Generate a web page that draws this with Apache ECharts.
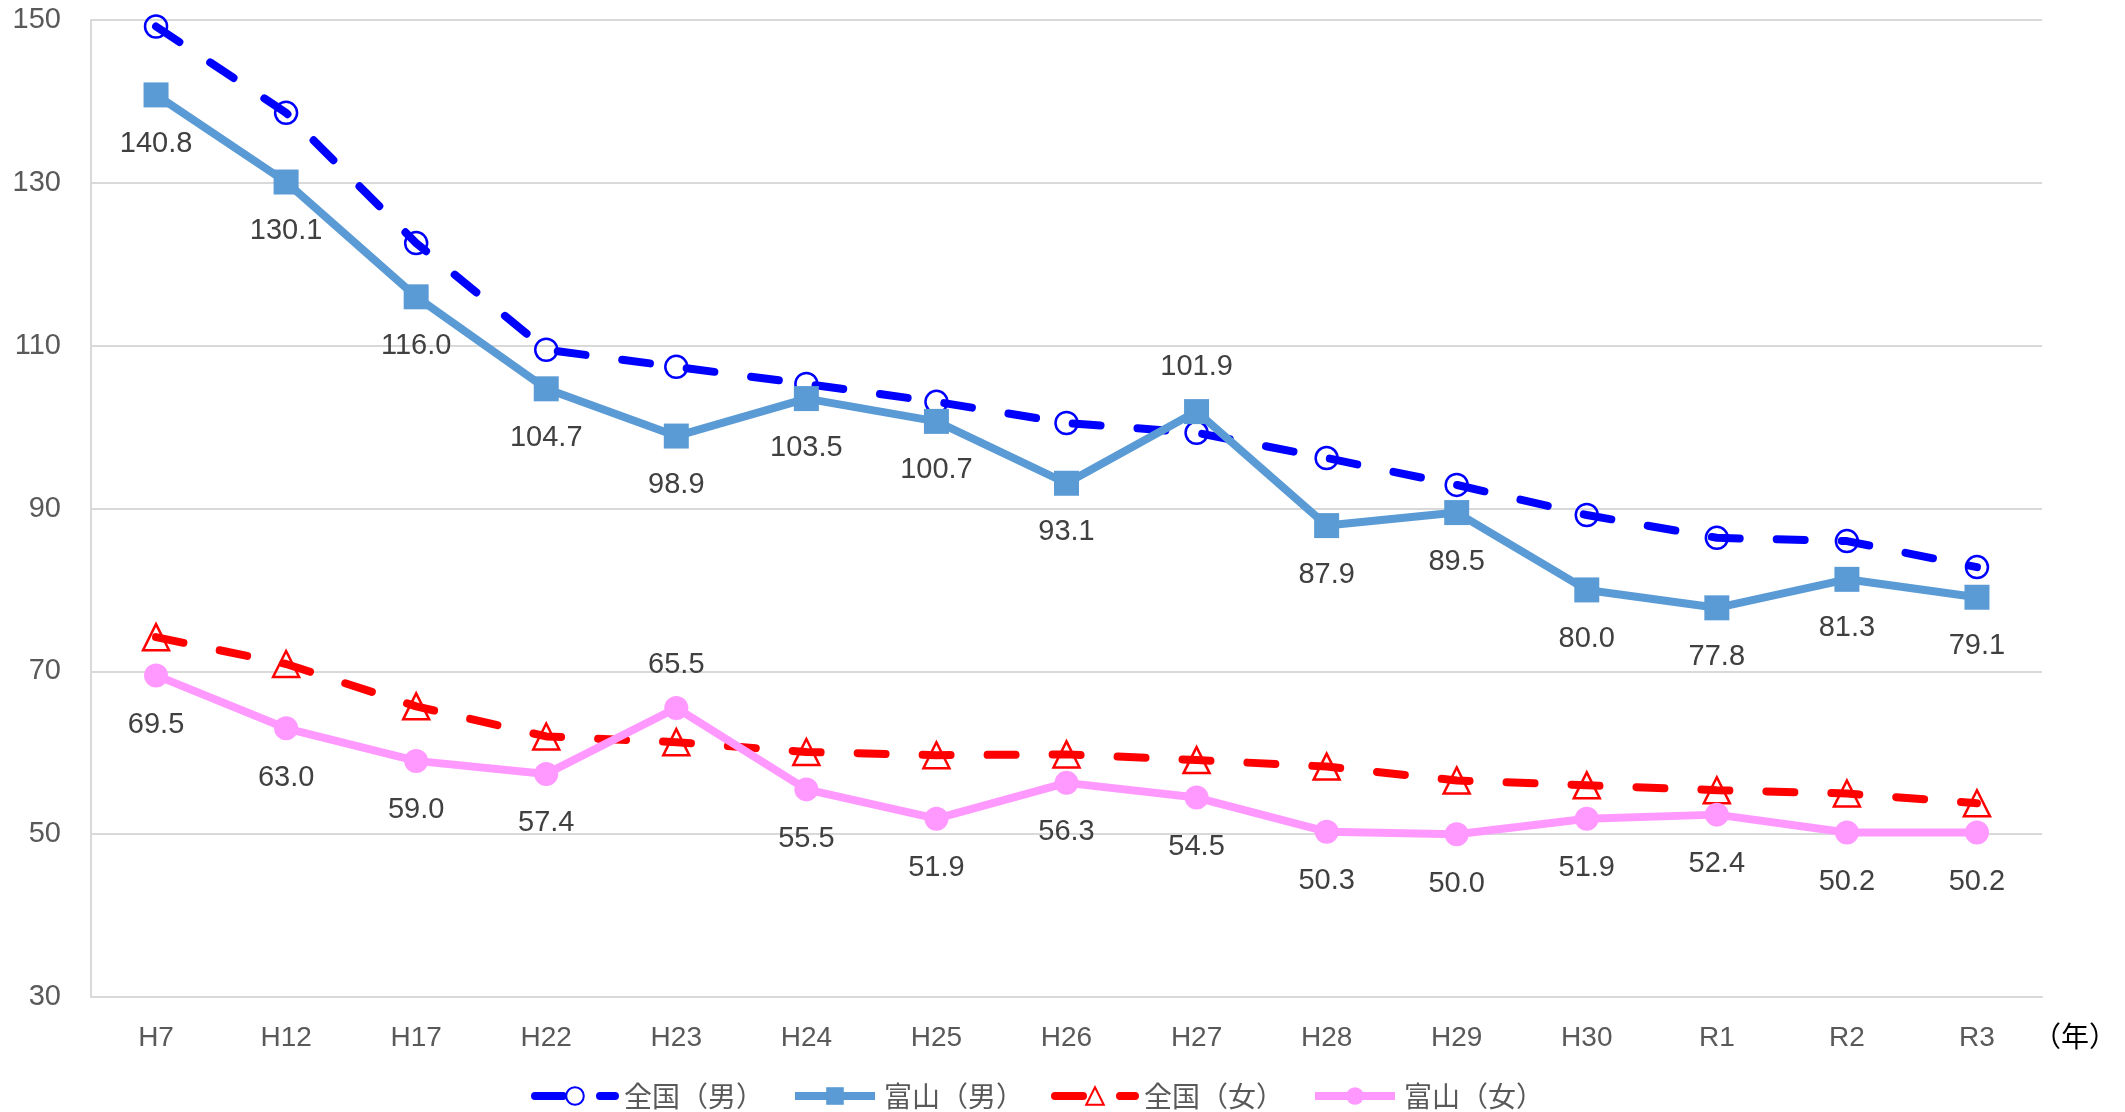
<!DOCTYPE html>
<html>
<head>
<meta charset="utf-8">
<script src="https://cdn.jsdelivr.net/npm/echarts@6/dist/echarts.min.js"></script>
<style>
  html, body { margin: 0; padding: 0; background: #fff; }
  #chart { width: 2125px; height: 1112px; }
</style>
</head>
<body>
<div id="chart"></div>
<script>
// 年
var years = ['H7', 'H12', 'H17', 'H22', 'H23', 'H24', 'H25', 'H26', 'H27', 'H28', 'H29', 'H30', 'R1', 'R2', 'R3']
// 全国（男）は図から読み取った値
var zenkokuMale = [149.2, 138.6, 122.6, 109.5, 107.4, 105.3, 103.1, 100.5, 99.3, 96.2, 92.9, 89.2, 86.4, 86.0, 82.8]
var toyamaMale = [140.8, 130.1, 116.0, 104.7, 98.9, 103.5, 100.7, 93.1, 101.9, 87.9, 89.5, 80.0, 77.8, 81.3, 79.1]
// 全国（女）も読み取り値
var zenkokuFemale = [74.2, 70.9, 65.7, 62.0, 61.3, 60.1, 59.7, 59.8, 59.1, 58.3, 56.6, 56.0, 55.4, 55.0, 53.8]
var toyamaFemale = [69.5, 63.0, 59.0, 57.4, 65.5, 55.5, 51.9, 56.3, 54.5, 50.3, 50.0, 51.9, 52.4, 50.2, 50.2]
var yTicks = { min: 30, max: 150, interval: 20 }

var numFont = 'Liberation Sans'
var dash = [28, 37]

// ラベルを上に出す点だけ個別指定
function withLabels (values, upIndex, downDist, upDist) {
  return values.map(function (v, i) {
    if (i === upIndex) {
      return { value: v, label: { position: 'top', distance: upDist } }
    }
    return { value: v, label: { position: 'bottom', distance: downDist } }
  })
}

var myChart = echarts.init(document.getElementById('chart'))
var option = {
  animation: false,
  grid: { left: 91, right: 83, top: 20, bottom: 115 },
  legend: {
    left: 526,
    top: 1077,
    itemWidth: 80,
    itemHeight: 22,
    itemGap: 27,
    lineStyle: { width: 8 },
    textStyle: { fontFamily: 'Noto Sans CJK JP', fontSize: 28, color: '#595959', padding: [0, 0, 0, 4] },
    data: ['全国（男）', '富山（男）', '全国（女）', '富山（女）']
  },
  xAxis: {
    type: 'category',
    data: years,
    boundaryGap: true,
    axisLine: { lineStyle: { color: '#d9d9d9', width: 2 } },
    axisTick: { show: false },
    axisLabel: { margin: 27, fontFamily: numFont, fontSize: 28, color: '#595959' }
  },
  yAxis: {
    type: 'value',
    min: yTicks.min,
    max: yTicks.max,
    interval: yTicks.interval,
    axisLine: { show: true, lineStyle: { color: '#d9d9d9', width: 2 } },
    axisTick: { show: false },
    splitLine: { lineStyle: { color: '#d9d9d9', width: 2 } },
    axisLabel: { margin: 30, fontFamily: numFont, fontSize: 29, color: '#595959' }
  },
  graphic: [
    {
      type: 'text',
      left: 2033,
      top: 1022,
      style: { text: '（年）', fontFamily: 'Noto Sans CJK JP', fontSize: 28, fill: '#000' }
    }
  ],
  series: [
    {
      name: '全国（男）',
      type: 'line',
      data: zenkokuMale,
      symbol: 'circle',
      symbolSize: 22,
      lineStyle: { color: '#0000FF', width: 8, type: dash, cap: 'round' },
      itemStyle: { color: 'rgba(255,255,255,0)', borderColor: '#0000FF', borderWidth: 2.5 }
    },
    {
      name: '富山（男）',
      type: 'line',
      data: withLabels(toyamaMale, 8, 22, 18),
      symbol: 'rect',
      symbolSize: 25,
      lineStyle: { color: '#5B9BD5', width: 8 },
      itemStyle: { color: '#5B9BD5' },
      label: { show: true, formatter: function (p) { return p.value.toFixed(1) }, fontFamily: numFont, fontSize: 29, color: '#404040' }
    },
    {
      name: '全国（女）',
      type: 'line',
      data: zenkokuFemale,
      symbol: 'triangle',
      symbolSize: 26,
      lineStyle: { color: '#FF0000', width: 8, type: dash, cap: 'round' },
      itemStyle: { color: 'rgba(255,255,255,0)', borderColor: '#FF0000', borderWidth: 2.5 }
    },
    {
      name: '富山（女）',
      type: 'line',
      data: withLabels(toyamaFemale, 4, 23, 16),
      symbol: 'circle',
      symbolSize: 24,
      lineStyle: { color: '#FF99FF', width: 8 },
      itemStyle: { color: '#FF99FF' },
      label: { show: true, formatter: function (p) { return p.value.toFixed(1) }, fontFamily: numFont, fontSize: 29, color: '#404040' }
    }
  ]
}
myChart.setOption(option)
</script>
</body>
</html>
